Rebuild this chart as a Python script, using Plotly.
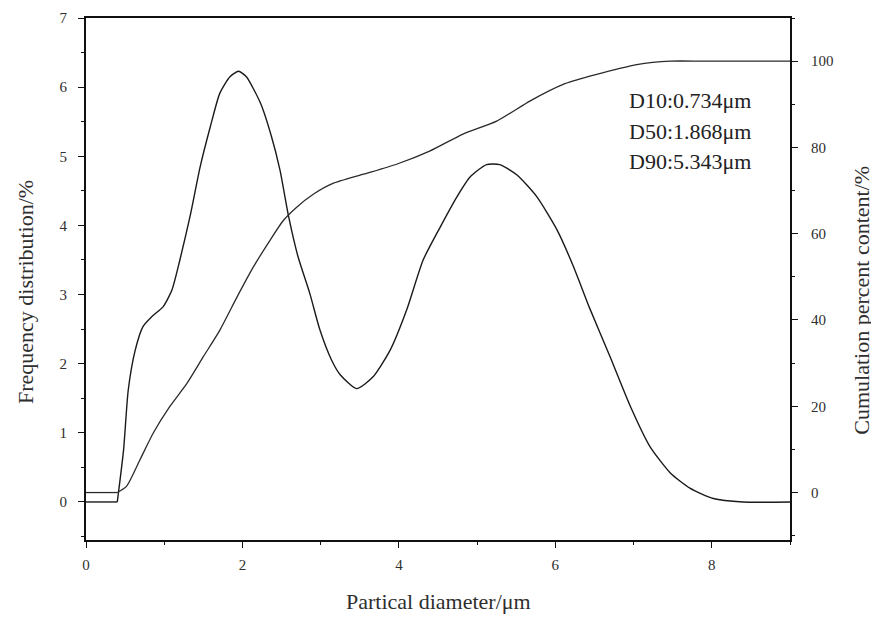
import plotly.graph_objects as go

# Frequency distribution (%) vs particle diameter (um)
freq_x = [0.0, 0.40, 0.48, 0.54, 0.63, 0.73, 0.84, 0.99, 1.10, 1.20, 1.33, 1.46, 1.59, 1.71,
          1.84, 1.95, 2.05, 2.23, 2.37, 2.48, 2.59, 2.71, 2.86, 2.99, 3.14, 3.25, 3.46,
          3.67, 3.89, 4.10, 4.31, 4.53, 4.74, 4.91, 5.12, 5.29, 5.51, 5.76, 6.02, 6.23,
          6.44, 6.70, 6.96, 7.21, 7.47, 7.72, 8.02, 8.40, 9.0]
freq_y = [0.0, 0.0, 0.75, 1.62, 2.2, 2.54, 2.68, 2.83, 3.07, 3.50, 4.13, 4.85, 5.43, 5.91,
          6.15, 6.23, 6.15, 5.77, 5.29, 4.80, 4.13, 3.55, 3.02, 2.49, 2.05, 1.84, 1.64,
          1.81, 2.20, 2.78, 3.50, 3.98, 4.41, 4.70, 4.88, 4.88, 4.73, 4.42, 3.94, 3.41,
          2.80, 2.10, 1.38, 0.80, 0.42, 0.20, 0.05, 0.0, 0.0]

# Cumulation percent content (%)
cum_x = [0.0, 0.40, 0.52, 0.69, 0.86, 1.07, 1.29, 1.50, 1.71, 1.93, 2.14, 2.35, 2.52, 2.69,
         2.91, 3.15, 3.55, 3.97, 4.40, 4.82, 5.25, 5.68, 6.10, 6.44, 6.80, 7.04, 7.47,
         7.89, 9.0]
cum_y = [0.0, 0.0, 1.5, 7.6, 13.8, 19.9, 25.3, 31.5, 37.6, 45.3, 52.3, 58.4, 63.0, 66.1,
         69.2, 71.6, 73.8, 76.1, 79.2, 83.1, 86.1, 90.8, 94.6, 96.5, 98.2, 99.2, 100.0,
         100.0, 100.0]

annot_lines = ["D10:0.734μm", "D50:1.868μm", "D90:5.343μm"]
x_title = "Partical diameter/μm"
y_title = "Frequency distribution/%"
y2_title = "Cumulation percent content/%"

FONT = "Liberation Serif"
LINE = "#1a1a1a"
TXT = "#2e2e2e"

fig = go.Figure()
# flat start (0 .. 0.40) drawn straight, the rest as a smooth curve
fig.add_trace(go.Scatter(x=freq_x[:2], y=freq_y[:2], mode="lines",
                         line=dict(color=LINE, width=1.4), showlegend=False))
fig.add_trace(go.Scatter(x=freq_x[1:], y=freq_y[1:], mode="lines",
                         line=dict(color=LINE, width=1.4, shape="spline", smoothing=0.6),
                         showlegend=False))
fig.add_trace(go.Scatter(x=cum_x[:2], y=cum_y[:2], mode="lines", yaxis="y2",
                         line=dict(color="#2a2a2a", width=1.3), showlegend=False))
fig.add_trace(go.Scatter(x=cum_x[1:], y=cum_y[1:], mode="lines", yaxis="y2",
                         line=dict(color="#2a2a2a", width=1.3, shape="spline", smoothing=0.6),
                         showlegend=False))

for i, t in enumerate(annot_lines):
    fig.add_annotation(x=0.768, y=0.841 - i * 0.0575, xref="paper", yref="paper",
                       text=t, showarrow=False, xanchor="left", yanchor="middle",
                       font=dict(family=FONT, size=22, color="#222222"))

title_font = dict(family=FONT, size=22, color=TXT)
fig.add_annotation(x=0.5, y=-0.117, xref="paper", yref="paper", text=x_title,
                   showarrow=False, xanchor="center", yanchor="middle", font=title_font)
fig.add_annotation(x=-0.0866, y=0.475, xref="paper", yref="paper", text=y_title,
                   textangle=-90, showarrow=False, xanchor="center", yanchor="middle",
                   font=title_font)
fig.add_annotation(x=1.102, y=0.46, xref="paper", yref="paper", text=y2_title,
                   textangle=-90, showarrow=False, xanchor="center", yanchor="middle",
                   font=title_font)

axis_common = dict(showline=True, linecolor="#111111", linewidth=2, ticks="outside",
                   ticklen=6, tickwidth=1.4, tickcolor="#111111", showgrid=False,
                   zeroline=False, automargin=False,
                   tickfont=dict(family=FONT, size=15, color=TXT))

fig.update_layout(
    width=879, height=618,
    margin=dict(l=78, r=97, t=10, b=86),
    plot_bgcolor="white", paper_bgcolor="white",
    xaxis=dict(range=[0, 9], dtick=2, tick0=0, mirror=True, ticklabelstandoff=4,
               minor=dict(dtick=1, ticks="outside", ticklen=3, tickcolor="#111111"),
               **axis_common),
    yaxis=dict(range=[-0.55, 7], dtick=1, tick0=0, ticklabelstandoff=8,
               minor=dict(dtick=0.5, ticks="outside", ticklen=3, tickcolor="#111111"),
               **axis_common),
    yaxis2=dict(range=[-11, 110], dtick=20, tick0=0, overlaying="y", side="right",
                ticklabelstandoff=10,
                minor=dict(dtick=10, ticks="outside", ticklen=3, tickcolor="#111111"),
                **axis_common),
)

fig.write_html("out.html")
